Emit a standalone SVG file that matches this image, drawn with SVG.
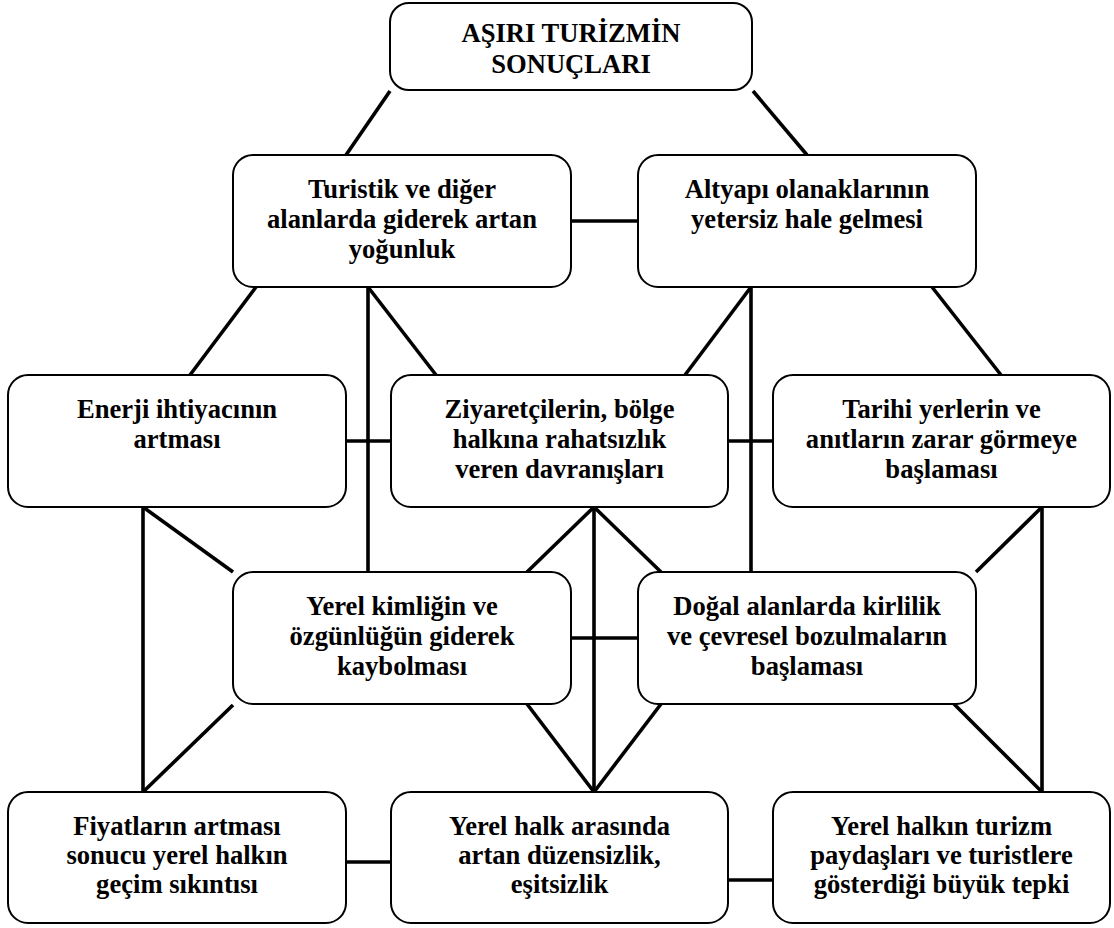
<svg xmlns="http://www.w3.org/2000/svg" width="1114" height="928" viewBox="0 0 1114 928">
<style>
.box{fill:#fff;stroke:#000;stroke-width:2}
.t{font-family:"Liberation Serif","Times New Roman",serif;font-weight:bold;font-size:26.6px;fill:#000;text-anchor:middle}
.c line{stroke:#000;stroke-width:3.6;stroke-linecap:butt}
</style>
<rect width="1114" height="928" fill="#fff"/>
<g class="c" id="connectors">
<line x1="390" y1="91" x2="346" y2="155"/>
<line x1="753" y1="91" x2="807" y2="155"/>
<line x1="571" y1="221" x2="638" y2="221"/>
<line x1="256" y1="287" x2="190" y2="375"/>
<line x1="368" y1="287" x2="368" y2="572"/>
<line x1="368" y1="287" x2="436" y2="375"/>
<line x1="751" y1="287" x2="685" y2="375"/>
<line x1="751" y1="287" x2="751" y2="572"/>
<line x1="932" y1="287" x2="1001" y2="375"/>
<line x1="346" y1="441" x2="391" y2="441"/>
<line x1="728" y1="441" x2="773" y2="441"/>
<line x1="143" y1="507" x2="143" y2="792"/>
<line x1="143" y1="507" x2="233" y2="572"/>
<line x1="233" y1="705" x2="143" y2="792"/>
<line x1="594" y1="507" x2="594" y2="792"/>
<line x1="594" y1="507" x2="527" y2="572"/>
<line x1="594" y1="507" x2="661" y2="572"/>
<line x1="527" y1="704" x2="594" y2="792"/>
<line x1="661" y1="704" x2="594" y2="792"/>
<line x1="1042" y1="507" x2="1042" y2="792"/>
<line x1="1042" y1="507" x2="976" y2="572"/>
<line x1="954" y1="704" x2="1042" y2="792"/>
<line x1="571" y1="638" x2="638" y2="638"/>
<line x1="346" y1="862" x2="391" y2="862"/>
<line x1="728" y1="880" x2="773" y2="880"/>
</g>
<g id="n0"><rect class="box" x="390" y="3" width="362" height="87" rx="19"/>
<text class="t" x="571" y="42">AŞIRI TURİZMİN</text><text class="t" x="571" y="73">SONUÇLARI</text></g>
<g id="n1"><rect class="box" x="233" y="155" width="338" height="132" rx="20"/>
<text class="t" x="402" y="198">Turistik ve diğer</text><text class="t" x="402" y="228">alanlarda giderek artan</text><text class="t" x="402" y="258">yoğunluk</text></g>
<g id="n2"><rect class="box" x="638" y="155" width="338" height="132" rx="20"/>
<text class="t" x="807" y="198">Altyapı olanaklarının</text><text class="t" x="807" y="228">yetersiz hale gelmesi</text></g>
<g id="n3"><rect class="box" x="8" y="375" width="338" height="132" rx="20"/>
<text class="t" x="177" y="418">Enerji ihtiyacının</text><text class="t" x="177" y="448">artması</text></g>
<g id="n4"><rect class="box" x="391" y="375" width="337" height="132" rx="20"/>
<text class="t" x="559.5" y="418">Ziyaretçilerin, bölge</text><text class="t" x="559.5" y="448">halkına rahatsızlık</text><text class="t" x="559.5" y="478">veren davranışları</text></g>
<g id="n5"><rect class="box" x="773" y="375" width="337" height="132" rx="20"/>
<text class="t" x="941.5" y="418">Tarihi yerlerin ve</text><text class="t" x="941.5" y="448">anıtların zarar görmeye</text><text class="t" x="941.5" y="478">başlaması</text></g>
<g id="n6"><rect class="box" x="233" y="572" width="338" height="132" rx="20"/>
<text class="t" x="402" y="615">Yerel kimliğin ve</text><text class="t" x="402" y="645">özgünlüğün giderek</text><text class="t" x="402" y="675">kaybolması</text></g>
<g id="n7"><rect class="box" x="638" y="572" width="338" height="132" rx="20"/>
<text class="t" x="807" y="615">Doğal alanlarda kirlilik</text><text class="t" x="807" y="645">ve çevresel bozulmaların</text><text class="t" x="807" y="675">başlaması</text></g>
<g id="n8"><rect class="box" x="8" y="792" width="338" height="131" rx="20"/>
<text class="t" x="177" y="835">Fiyatların artması</text><text class="t" x="177" y="864">sonucu yerel halkın</text><text class="t" x="177" y="893">geçim sıkıntısı</text></g>
<g id="n9"><rect class="box" x="391" y="792" width="337" height="131" rx="20"/>
<text class="t" x="559.5" y="835">Yerel halk arasında</text><text class="t" x="559.5" y="864">artan düzensizlik,</text><text class="t" x="559.5" y="893">eşitsizlik</text></g>
<g id="n10"><rect class="box" x="773" y="792" width="337" height="131" rx="20"/>
<text class="t" x="941.5" y="835">Yerel halkın turizm</text><text class="t" x="941.5" y="864">paydaşları ve turistlere</text><text class="t" x="941.5" y="893">gösterdiği büyük tepki</text></g>
</svg>
